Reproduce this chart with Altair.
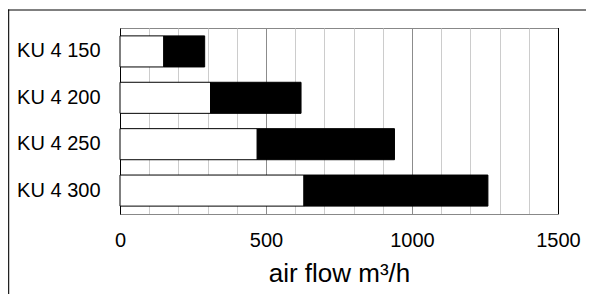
import altair as alt
import pandas as pd

models = ["KU 4 150", "KU 4 200", "KU 4 250", "KU 4 300"]
min_flow = [150, 310, 470, 630]
max_flow = [290, 620, 940, 1260]
x_ticks = list(range(0, 1501, 100))

rows = []
for m, lo, hi in zip(models, min_flow, max_flow):
    rows.append({"model": m, "segment": "a", "start": 0, "end": lo})
    rows.append({"model": m, "segment": "b", "start": lo, "end": hi})
df = pd.DataFrame(rows)

FONT = "Liberation Sans"

bars = alt.Chart(df).mark_bar(stroke="black", strokeWidth=1).encode(
    y=alt.Y(
        "model:N",
        sort=models,
        scale=alt.Scale(paddingInner=0.33, paddingOuter=0.17),
        axis=alt.Axis(
            title=None, ticks=False, labelPadding=20, labelFontSize=20,
            labelFont=FONT, labelColor="black", domainColor="black",
            domainWidth=1, grid=False,
        ),
    ),
    x=alt.X(
        "start:Q",
        scale=alt.Scale(domain=[0, 1500], nice=False),
        axis=alt.Axis(
            values=x_ticks, format="d",
            labelExpr="datum.value % 500 === 0 ? datum.label : ''",
            title="air flow m³/h", titleFont=FONT, titleFontSize=26,
            titleFontWeight="normal", titleColor="black", titlePadding=10,
            ticks=False, labelPadding=16, labelFontSize=20, labelFont=FONT,
            labelColor="black", domainColor="#888888", labelFlush=False,
            gridColor={"condition": {"test": "datum.value % 500 === 0", "value": "#8c8c8c"},
                       "value": "#cccccc"},
            gridWidth=1,
        ),
    ),
    x2="end:Q",
    color=alt.Color("segment:N", scale=alt.Scale(domain=["a", "b"], range=["white", "black"]), legend=None),
)

one = alt.Data(values=[{"k": 1}])
right_edge = alt.Chart(one).mark_rule(color="black", strokeWidth=1).encode(
    x=alt.value(438.5), y=alt.value(0), y2=alt.value(186)
)
frame_left = alt.Chart(one).mark_rule(color="#222222", strokeWidth=1.3).encode(
    x=alt.value(-111.4), y=alt.value(-18.5), y2=alt.value(300)
)
frame_top = alt.Chart(one).mark_rule(color="black", strokeWidth=1).encode(
    x=alt.value(-112), x2=alt.value(466), y=alt.value(-18)
)

chart = alt.layer(bars, right_edge, frame_left, frame_top).properties(
    width=438, height=186,
    autosize=alt.AutoSizeParams(type="none"),
    padding={"left": 112, "top": 20, "right": 28, "bottom": 80},
    background="white",
).configure_view(stroke="#888888", strokeWidth=1)

chart.save("out.html", embed_options={"renderer": "svg", "actions": False})
